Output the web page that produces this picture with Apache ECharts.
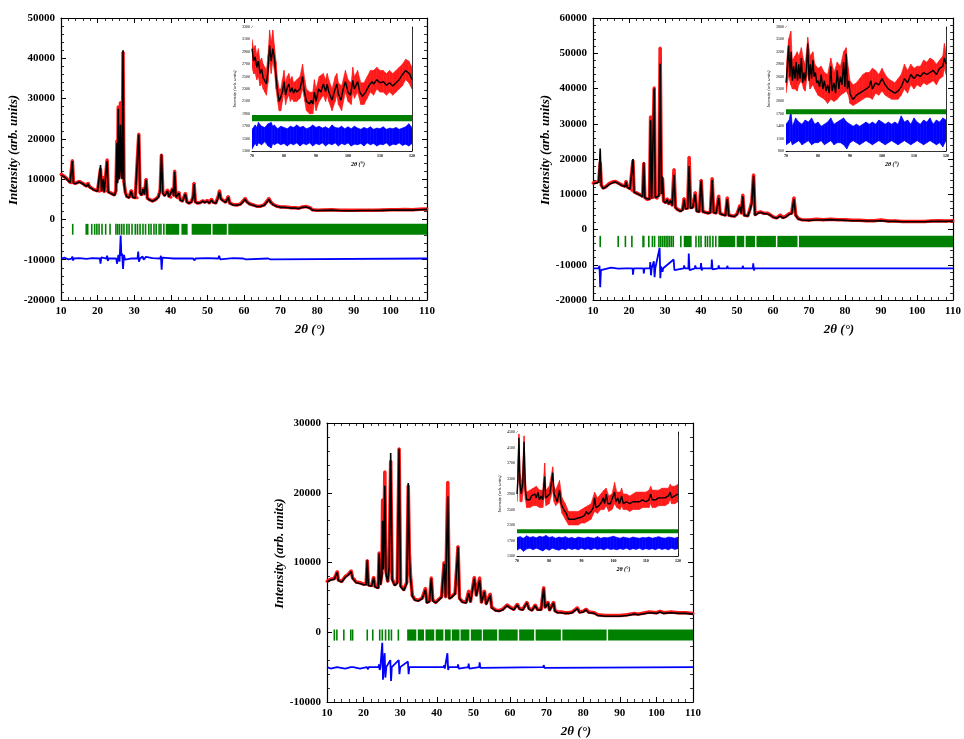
<!DOCTYPE html>
<html><head><meta charset="utf-8">
<script src="https://cdn.jsdelivr.net/npm/echarts@6/dist/echarts.min.js"></script>
<style>html,body{margin:0;padding:0;background:#fff}#c{width:964px;height:739px}</style>
</head><body><div id="c"></div>
<script>
// ---------- Axis ranges / ticks ----------
const mainX = [10, 110, 10];
const c1Y = [-20000, 50000, 10000];
const c2Y = [-20000, 60000, 10000];
const c3Y = [-10000, 30000, 10000];
const insetX = [70, 120, 10];
const i1Y = [1300, 3300, 200];
const i2Y = [800, 3800, 300];
const i3Y = [1300, 4500, 400];

// ---------- Chart 1 ----------
const c1Calc = [[10,11000],[10.5,10700],[11,10500],[11.5,10300],[12,9600],[12.5,9100],[12.8,9000],[13.1,14500],[13.4,9000],[14,8900],[14.5,9200],[15,9300],[15.5,9100],[16,8800],[16.5,8400],[17,8200],[17.4,8800],[17.8,8000],[18,7800],[19,7300],[20,7000],[20.5,6900],[20.8,13500],[21.1,7000],[21.5,10000],[21.8,6800],[22.3,7000],[22.6,14500],[22.9,6800],[23.5,6500],[24,6400],[24.6,6000],[25.0,7000],[25.3,19000],[25.5,9000],[25.65,27500],[25.85,12000],[26.0,10000],[26.25,23500],[26.5,12000],[26.7,10000],[26.95,42000],[27.2,9000],[27.6,6500],[28,5600],[28.6,5400],[29.2,7000],[29.6,5500],[30.3,5300],[30.8,5300],[31.25,21000],[31.6,6500],[32,6000],[32.4,7500],[32.8,6200],[33.25,9800],[33.6,5200],[34.2,4800],[35,4500],[35.5,4600],[36,5000],[36.6,5500],[37.1,7000],[37.45,16200],[37.8,6500],[38.3,5800],[39.1,7000],[39.5,5600],[40,5400],[40.5,7500],[40.8,5800],[41.05,11800],[41.4,5500],[41.8,5300],[42.2,6500],[42.6,4800],[43.2,4500],[44,6300],[44.4,4300],[45,4000],[45.6,4300],[46.1,5500],[46.35,8800],[46.7,4300],[47.3,4000],[48,4100],[48.7,4500],[49.3,4200],[50,4500],[50.5,4000],[51.1,4800],[51.6,4200],[52.3,4000],[53,5500],[53.3,6800],[53.7,5000],[54.3,4600],[55,4200],[55.7,5500],[56.1,4000],[57,3600],[58,3500],[59,3700],[59.7,4300],[60.3,5000],[60.8,4300],[61.5,3800],[62.5,3500],[63.5,3200],[64.5,3200],[65.5,3500],[66.2,4200],[66.8,5000],[67.3,4200],[68,3600],[69,3200],[70,3000],[71,3000],[72,2900],[73,2800],[74,2800],[75,2700],[76,3000],[77,3100],[78,2800],[78.7,2300],[80,2200],[82,2250],[84,2300],[86,2200],[88,2150],[90,2150],[92,2200],[94,2200],[96,2200],[98,2250],[100,2300],[102,2300],[104,2350],[106,2300],[108,2400],[110,2500]];
const c1Obs = [[10,11200],[10.5,10800],[11,10600],[11.5,10200],[12,9700],[12.5,9200],[12.8,9100],[13.1,14600],[13.4,9100],[14,9000],[14.5,9300],[15,9400],[15.5,9200],[16,8900],[16.5,8500],[17,8300],[17.4,9000],[17.8,8100],[18,7900],[19,7400],[20,7100],[20.5,7000],[20.8,12500],[21.1,7200],[21.5,10500],[21.8,6900],[22.3,7100],[22.6,14800],[22.9,6900],[23.5,6600],[24,6500],[24.6,6100],[25.0,7200],[25.3,19500],[25.5,10000],[25.65,28000],[25.85,13000],[26.0,11000],[26.25,29000],[26.5,13500],[26.7,10500],[26.95,41500],[27.2,9500],[27.6,6700],[28,5700],[28.6,5500],[29.2,7200],[29.6,5600],[30.3,5400],[30.8,5400],[31.25,21200],[31.6,6700],[32,6100],[32.4,7700],[32.8,6300],[33.25,10000],[33.6,5300],[34.2,4900],[35,4600],[35.5,4700],[36,5100],[36.6,5700],[37.1,7200],[37.45,16000],[37.8,6800],[38.3,6000],[39.1,7300],[39.5,5700],[40,5500],[40.5,7700],[40.8,6000],[41.05,12000],[41.4,5700],[41.8,5400],[42.2,6700],[42.6,4900],[43.2,4600],[44,6500],[44.4,4400],[45,4100],[45.6,4400],[46.1,5700],[46.35,9000],[46.7,4400],[47.3,4100],[48,4200],[48.7,4600],[49.3,4300],[50,4700],[50.5,4100],[51.1,5000],[51.6,4300],[52.3,4100],[53,5800],[53.3,7100],[53.7,5200],[54.3,4700],[55,4300],[55.7,5700],[56.1,4100],[57,3700],[58,3600],[59,3800],[59.7,4500],[60.3,5200],[60.8,4400],[61.5,3900],[62.5,3600],[63.5,3300],[64.5,3300],[65.5,3600],[66.2,4400],[66.8,5200],[67.3,4300],[68,3700],[69,3300],[70,3100],[71,3100],[72,3000],[73,2900],[74,2900],[75,2800],[76,3100],[77,3200],[78,2900],[78.7,2400],[80,2300],[82,2350],[84,2400],[86,2300],[88,2250],[90,2250],[92,2300],[94,2300],[96,2300],[98,2350],[100,2400],[102,2400],[104,2450],[106,2400],[108,2500],[110,2600]];
const c1Diff = [[10,-9700],[11,-9500],[12,-9900],[12.9,-9700],[13.1,-9200],[13.3,-10200],[13.5,-9700],[15,-9600],[17,-9800],[18.5,-9600],[20.6,-9700],[20.8,-11000],[21,-9400],[21.2,-9700],[22.4,-9700],[22.6,-9000],[22.8,-10300],[23,-9700],[25.1,-9700],[25.3,-11000],[25.5,-10800],[25.7,-8800],[26,-10500],[26.3,-4000],[26.5,-9000],[26.7,-8500],[26.95,-12300],[27.2,-8800],[27.5,-10000],[27.8,-9700],[29.0,-9700],[29.2,-9300],[29.5,-9700],[30.9,-9700],[31.1,-8000],[31.3,-10500],[31.6,-9700],[32.1,-9700],[32.3,-9200],[32.6,-10000],[32.9,-9700],[33.0,-9700],[33.2,-9300],[33.5,-9700],[35,-9600],[37.1,-9700],[37.3,-9000],[37.5,-12500],[37.7,-9500],[38,-9700],[39.5,-9600],[40.8,-9700],[41,-9300],[41.2,-10000],[41.4,-9700],[43.8,-9700],[44,-9400],[44.2,-9700],[46.1,-9700],[46.3,-9300],[46.5,-10200],[46.7,-9700],[50,-9600],[53.0,-9700],[53.2,-9000],[53.5,-9900],[53.7,-9700],[57,-9600],[59.8,-9700],[60,-9500],[60.5,-9900],[60.7,-9700],[66.6,-9700],[66.8,-9400],[67.2,-9900],[67.4,-9700],[110,-9700]];
const c1BraggY = [-1100, -3800];
const c1BraggLines = [13.2,16.9,17.3,18.4,19.2,19.8,20.4,21.2,22.2,23.4,25.0,25.5,26.0,26.6,27.2,28.0,28.6,29.4,30.3,30.9,31.6,32.4,33.1,34.0,34.6,35.4,36.0,36.8,37.3,38.1];
const c1BraggBands = [[38.6,42.3],[42.9,44.6],[45.7,51.0],[51.4,55.3],[55.7,110]];

// ---------- Chart 2 ----------
const c2Calc = [[10,13000],[11,13200],[11.6,13500],[12.0,23000],[12.3,12500],[12.8,11600],[13.5,12000],[14.5,12800],[15.5,13300],[16.2,13500],[17,13100],[18,12500],[18.9,12200],[19.2,13500],[19.5,12000],[20.3,11500],[20.8,11000],[21.1,20000],[21.4,10600],[22,10300],[23,9800],[23.8,9300],[24.1,19000],[24.4,9000],[25,8700],[25.7,8600],[26.0,31000],[26.3,8800],[26.7,9000],[27.0,40000],[27.3,9000],[27.8,8800],[28.3,9500],[28.65,47000],[29.0,10000],[29.3,15000],[29.6,8000],[30.2,7500],[30.6,8500],[31,7200],[31.5,8200],[32,6800],[32.5,15500],[32.9,6200],[33.5,5600],[34.3,5200],[34.9,5500],[35.3,8500],[35.7,5800],[36.3,6000],[36.7,18000],[37.1,6000],[37.7,6200],[38.4,10000],[38.8,5200],[39.5,5000],[40.05,13800],[40.5,5000],[41.2,4800],[42,4600],[42.6,4800],[43.1,14000],[43.5,4800],[44.2,4600],[44.9,9000],[45.3,4500],[46,4200],[46.8,4000],[47.3,8600],[47.7,4000],[48.5,3800],[49.3,3700],[50,4200],[50.8,6500],[51.2,4500],[51.6,9400],[52,4000],[53,3800],[53.6,5500],[54.1,7500],[54.6,15200],[55,4000],[55.8,4600],[56.5,4800],[57.5,4500],[58.5,4400],[59.3,4000],[60,3500],[61,3200],[62,3800],[62.7,3300],[63.5,3500],[64.5,4300],[65.2,4500],[65.8,8600],[66.3,4000],[67,3000],[68,2700],[70,2600],[72,2700],[74,2700],[76,2800],[78,2700],[80,2600],[82,2500],[84,2500],[86,2400],[88,2400],[90,2500],[92,2300],[94,2300],[96,2200],[98,2200],[100,2200],[102,2200],[104,2300],[106,2300],[108,2300],[110,2400]];
const c2Obs = [[10,13200],[11,13400],[11.6,13700],[12.0,19000],[12.3,12600],[12.8,11800],[13.5,12100],[14.5,13000],[15.5,13500],[16.2,13600],[17,13200],[18,12600],[18.9,12300],[19.2,13700],[19.5,12100],[20.3,11600],[20.8,11100],[21.1,19500],[21.4,10700],[22,10400],[23,9900],[23.8,9400],[24.1,18800],[24.4,9100],[25,8600],[25.7,8700],[26.0,32000],[26.3,9000],[26.7,9100],[27.0,40200],[27.3,9200],[27.8,8900],[28.3,9700],[28.65,51500],[29.0,10500],[29.3,14500],[29.6,8100],[30.2,7700],[30.6,8700],[31,7300],[31.5,8400],[32,6900],[32.5,17000],[32.9,6300],[33.5,5700],[34.3,5300],[34.9,5700],[35.3,8800],[35.7,6000],[36.3,6100],[36.7,20500],[37.1,6200],[37.7,6400],[38.4,10500],[38.8,5300],[39.5,5100],[40.05,14000],[40.5,5100],[41.2,4900],[42,4700],[42.6,4900],[43.1,14500],[43.5,4900],[44.2,4700],[44.9,9500],[45.3,4600],[46,4300],[46.8,4100],[47.3,9000],[47.7,4100],[48.5,3900],[49.3,3800],[50,4400],[50.8,6800],[51.2,4600],[51.6,9800],[52,4100],[53,3900],[53.6,5800],[54.1,7800],[54.6,15500],[55,4200],[55.8,4800],[56.5,5000],[57.5,4600],[58.5,4600],[59.3,4100],[60,3600],[61,3300],[62,4100],[62.7,3400],[63.5,3700],[64.5,4500],[65.2,4700],[65.8,9000],[66.3,4100],[67,3100],[68,2800],[70,2700],[72,2900],[74,2800],[76,2900],[78,2800],[80,2800],[82,2600],[84,2600],[86,2500],[88,2500],[90,2700],[92,2400],[94,2400],[96,2300],[98,2300],[100,2300],[102,2300],[104,2400],[106,2500],[108,2400],[110,2500]];
const c2Diff = [[10,-11000],[11.5,-11000],[11.8,-10300],[12.0,-16400],[12.2,-11500],[12.5,-11000],[15,-10800],[17,-11100],[19,-11000],[19.2,-10500],[19.4,-11000],[21,-11000],[21.1,-12800],[21.3,-11000],[24,-11000],[24.1,-12500],[24.3,-11000],[25.8,-11000],[25.9,-9200],[26.1,-13000],[26.3,-11000],[26.9,-9000],[27.1,-13500],[27.3,-11000],[28.5,-5200],[28.7,-13800],[28.9,-10500],[29.3,-12000],[29.5,-11000],[32.4,-8500],[32.6,-11500],[32.8,-11000],[35.2,-11000],[35.3,-10200],[35.5,-11000],[36.5,-11000],[36.6,-6800],[36.8,-11500],[37,-11000],[38.3,-11000],[38.4,-10200],[38.6,-11000],[39.9,-11000],[40,-9500],[40.2,-11600],[40.4,-11000],[42.9,-11000],[43,-8500],[43.2,-11300],[43.4,-11000],[44.8,-11000],[44.9,-10200],[45.1,-11000],[47.2,-11000],[47.3,-10300],[47.5,-11000],[51.5,-11000],[51.6,-10300],[51.8,-11000],[54.4,-11000],[54.5,-9600],[54.7,-11600],[54.9,-11000],[65.7,-11000],[65.8,-10600],[66,-11000],[110,-11000]];
const c2BraggY = [-1800, -5000];
const c2BraggLines = [12.0,17.0,19.0,20.8,23.9,24.1,25.5,26.5,27.1,28.3,28.8,29.3,29.8,30.3,30.8,31.3,31.8,32.3,34.4,38.6,39.4,40.0,41.2,41.8,42.5,43.3,44.1];
const c2BraggBands = [[35.2,37.4],[44.8,49.5],[49.9,52.0],[52.4,55.0],[55.4,60.8],[61.2,66.8],[67.2,110]];

// ---------- Chart 3 ----------
const c3Calc = [[10,7200],[11,7500],[12,7600],[12.5,7700],[12.8,8600],[13.1,7400],[14,7200],[15,7900],[15.8,8200],[16.6,8700],[17,7700],[17.5,7500],[18,7100],[19,7000],[20,6800],[20.7,6800],[21,10300],[21.3,6700],[22.2,6600],[22.75,7800],[23.1,6500],[24,6300],[24.25,11300],[24.6,6800],[25.0,8000],[25.2,16000],[25.45,9000],[25.8,21000],[26.1,8500],[26.6,7200],[27.0,9500],[27.4,25700],[27.8,7500],[28.5,6700],[29.2,7000],[29.7,26300],[30.1,6500],[31,6000],[31.8,7000],[32.2,21400],[32.5,11000],[32.8,8000],[33.3,5200],[34,4600],[35,4500],[36,4800],[36.9,6100],[37.3,4200],[38,4400],[38.5,7700],[38.9,4500],[39.7,4200],[40.5,4600],[41.3,5000],[42.0,9800],[42.4,5000],[43.0,19500],[43.4,4800],[44,5000],[45,5500],[45.8,12200],[46.2,4800],[47,4300],[48,4200],[48.7,5600],[49.2,4300],[50.25,7700],[50.8,5200],[51.7,7500],[52.2,4200],[53,5800],[53.5,4000],[54.6,5300],[55,3500],[56,3100],[57,3000],[58,3200],[59.2,3800],[60,3500],[61,3200],[62,3900],[62.6,3300],[63.5,3200],[64.6,4200],[65.2,3300],[66,3100],[66.9,3800],[67.5,3200],[68.5,3200],[69.2,6300],[69.6,3500],[70.4,4200],[70.8,3100],[71.9,4200],[72.3,3000],[73,2800],[74,2800],[75,2700],[76,2700],[77,2800],[78.4,3400],[79,2800],[80,2900],[80.8,3200],[81.5,2800],[83,2700],[84,2400],[86,2300],[88,2300],[90,2300],[92,2400],[94,2600],[95,2500],[97,2700],[98,2800],[100,2700],[101,2900],[102,2700],[104,2800],[106,2700],[108,2700],[110,2600]];
const c3Obs = [[10,7300],[11,7600],[12,7700],[12.5,7800],[12.8,8700],[13.1,7500],[14,7300],[15,8000],[15.8,8300],[16.6,8800],[17,7800],[17.5,7600],[18,7200],[19,7100],[20,6900],[20.7,6900],[21,10300],[21.3,6800],[22.2,6700],[22.75,7900],[23.1,6600],[24,6400],[24.25,11400],[24.6,6900],[25.0,8500],[25.2,19000],[25.45,10000],[25.8,23000],[26.1,8800],[26.6,7300],[27.0,9800],[27.4,24500],[27.8,7700],[28.5,6800],[29.2,7200],[29.7,26300],[30.1,6700],[31,6100],[31.8,7200],[32.2,21000],[32.5,11500],[32.8,8200],[33.3,5300],[34,4700],[35,4600],[36,4900],[36.9,6300],[37.3,4300],[38,4500],[38.5,7800],[38.9,4600],[39.7,4300],[40.5,4700],[41.3,5100],[42.0,10000],[42.4,5100],[43.0,21500],[43.4,4900],[44,5100],[45,5600],[45.8,12300],[46.2,4900],[47,4400],[48,4300],[48.7,5900],[49.2,4400],[50.25,7900],[50.8,5300],[51.7,7800],[52.2,4300],[53,5900],[53.5,4100],[54.6,5500],[55,3600],[56,3200],[57,3100],[58,3300],[59.2,3900],[60,3600],[61,3300],[62,4000],[62.6,3400],[63.5,3300],[64.6,4300],[65.2,3400],[66,3200],[66.9,3900],[67.5,3300],[68.5,3300],[69.2,6400],[69.6,3600],[70.4,4300],[70.8,3200],[71.9,4300],[72.3,3100],[73,2900],[74,2900],[75,2800],[76,2800],[77,2900],[78.4,3500],[79,2900],[80,3000],[80.8,3300],[81.5,2900],[83,2800],[84,2500],[86,2400],[88,2400],[90,2400],[92,2500],[94,2700],[95,2600],[97,2800],[98,2900],[100,2800],[101,3000],[102,2800],[104,2900],[106,2800],[108,2800],[110,2700]];
const c3Diff = [[10,-5000],[11,-5200],[12.7,-5000],[12.8,-4800],[13,-5200],[13.2,-5000],[15,-5200],[16.5,-5000],[16.6,-4800],[17,-5100],[17.2,-5000],[19,-5200],[20.9,-5000],[21,-4800],[21.2,-5300],[21.4,-5000],[24.1,-5000],[24.2,-4600],[24.4,-5400],[24.6,-5000],[25.1,-1500],[25.3,-6800],[25.5,-4800],[25.75,-3000],[25.95,-6500],[26.2,-5000],[27.3,-4000],[27.5,-7000],[27.7,-5000],[29.6,-4000],[29.8,-6000],[30,-5000],[32.1,-4200],[32.3,-6000],[32.5,-5000],[41.9,-5000],[42,-4700],[42.2,-5200],[42.4,-5000],[42.9,-3000],[43.1,-5400],[43.3,-5000],[45.7,-5000],[45.8,-4600],[46,-5200],[46.2,-5000],[48.6,-5000],[48.7,-4500],[48.9,-5200],[49.1,-5000],[51.6,-5000],[51.7,-4300],[51.9,-5100],[52.2,-5000],[69.1,-5000],[69.2,-4700],[69.4,-5100],[69.6,-5000],[110,-5000]];
const c3BraggY = [400, -1200];
const c3BraggLines = [12.0,12.7,14.6,16.5,17.0,21.0,22.5,24.4,25.1,26.0,26.9,27.6,29.5];
const c3BraggBands = [[31.9,34.4],[34.8,36.5],[36.9,39.3],[39.7,41.8],[42.2,43.8],[44.1,46.2],[46.5,48.9],[49.3,52.3],[52.6,56.5],[56.9,62.1],[62.5,66.6],[67,73.9],[74.3,86.4],[86.8,110]];

// ---------- Insets: [2θ, intensity] and [2θ, low, high] ----------
const i1Calc = [[70,2950],[70.5,2750],[71,2820],[71.5,2650],[72,2750],[72.5,2550],[73,2620],[73.5,2480],[74,2450],[74.5,2380],[75,2600],[75.5,3000],[76,2750],[76.5,2950],[77,2800],[77.5,2500],[78,2250],[78.5,2100],[79,2100],[79.5,2250],[80,2420],[80.5,2200],[81,2320],[81.5,2380],[82,2250],[82.5,2320],[83,2230],[83.5,2300],[84,2250],[85,2300],[85.8,2500],[86.3,2280],[87,2100],[88,2060],[88.5,2120],[89,2060],[89.5,2250],[90,2100],[90.8,2300],[91.5,2250],[92.3,2380],[93,2260],[93.5,2380],[94,2250],[95,2120],[96,2300],[96.5,2380],[97,2220],[97.8,2120],[98.5,2300],[99.2,2420],[100,2250],[100.8,2200],[101.5,2440],[102,2300],[103,2420],[103.7,2250],[104.5,2180],[105.5,2250],[106.5,2350],[107.5,2420],[108,2380],[109,2450],[110,2400],[111,2420],[112,2360],[113,2400],[114,2350],[115,2400],[116,2450],[117,2530],[118,2600],[118.5,2620],[119.3,2540],[120,2450]];
const i1ObsBand = [[70,2650,3100],[70.5,2550,2950],[71,2550,3000],[71.5,2450,2850],[72,2500,2950],[72.5,2350,2750],[73,2400,2800],[73.5,2300,2700],[74,2250,2650],[74.5,2200,2600],[75,2400,2850],[75.5,2750,3250],[76,2550,3050],[76.5,2750,3250],[77,2600,3000],[77.5,2300,2750],[78,2100,2450],[78.5,1950,2300],[79,1950,2300],[79.5,2100,2450],[80,2250,2600],[80.5,2050,2400],[81,2150,2500],[81.5,2200,2550],[82,2100,2450],[82.5,2150,2500],[83,2100,2400],[84,2100,2450],[85,2150,2500],[85.8,2300,2700],[86.5,2100,2450],[87,1950,2300],[88,1900,2250],[89,1900,2250],[89.5,2100,2450],[90,1950,2300],[91,2100,2500],[92.3,2200,2550],[93,2100,2450],[93.5,2200,2550],[94,2100,2450],[95,1950,2300],[96,2100,2500],[96.5,2200,2550],[97,2050,2400],[98,1950,2350],[99.2,2250,2600],[100,2100,2450],[101,2050,2400],[101.5,2250,2650],[102,2150,2500],[103,2250,2600],[104,2050,2400],[105,2050,2400],[106,2150,2500],[107,2250,2600],[108,2200,2600],[109,2300,2650],[110,2250,2600],[111,2250,2600],[112,2200,2550],[113,2250,2600],[114,2200,2550],[115,2250,2600],[116,2300,2650],[117,2350,2700],[118,2450,2780],[119,2400,2750],[120,2300,2650]];
const i1DiffBand = [[70,1330,1650],[71,1420,1720],[71.5,1380,1680],[72,1430,1760],[73,1400,1700],[74,1450,1680],[75,1380,1740],[76,1350,1760],[76.5,1420,1700],[77,1400,1720],[78,1430,1660],[79,1400,1700],[80,1420,1680],[81,1380,1660],[82,1420,1700],[83,1400,1680],[84,1430,1720],[85,1380,1680],[86,1420,1700],[87,1400,1660],[88,1430,1680],[89,1380,1720],[90,1420,1680],[91,1400,1700],[92,1430,1670],[93,1380,1690],[94,1420,1660],[95,1400,1720],[96,1430,1680],[97,1380,1670],[98,1420,1700],[99,1400,1660],[100,1430,1690],[101,1380,1660],[102,1410,1700],[103,1400,1670],[104,1420,1650],[105,1380,1680],[106,1430,1660],[107,1400,1690],[108,1420,1650],[109,1380,1670],[110,1410,1660],[111,1400,1690],[112,1430,1650],[113,1380,1670],[114,1410,1660],[115,1400,1680],[116,1430,1650],[117,1390,1670],[118,1410,1690],[119,1380,1740],[120,1420,1680]];
const i1Bragg = [70, 120, 1880, 1780];

const i2Calc = [[70,2450],[70.4,2800],[70.8,3350],[71.2,2600],[71.6,3200],[72,2500],[72.4,2850],[72.8,2550],[73.2,2950],[73.6,2500],[74,2900],[74.4,2550],[74.8,3050],[75.2,2450],[75.6,2700],[76,2500],[76.4,2800],[76.8,3400],[77.2,2500],[77.6,2900],[78,2550],[78.4,3000],[78.8,2600],[79.2,2700],[79.6,2450],[80,2500],[80.5,2350],[81,2650],[81.5,2300],[82,2500],[82.5,2250],[83,2400],[83.5,2200],[84,2850],[84.4,2250],[85,2450],[85.5,2200],[86,2750],[86.5,2300],[87,2600],[87.5,2400],[88,2950],[88.4,2350],[88.8,3150],[89.2,2300],[89.6,2500],[90,2200],[90.5,2100],[91,2050],[92,2150],[93,2200],[94,2250],[95,2300],[96,2350],[96.5,2500],[97,2300],[98,2450],[99,2400],[100,2550],[101,2400],[102,2300],[103,2250],[104,2200],[105,2250],[106,2350],[107,2550],[108,2450],[109,2650],[110,2550],[111,2650],[112,2600],[113,2700],[114,2650],[115,2700],[116,2750],[117,2650],[118,2800],[119,2850],[119.5,3050],[120,2900]];
const i2ObsBand = [[70,2200,2800],[70.8,2600,3500],[71.5,2400,3700],[72,2300,3000],[72.8,2300,3100],[73.5,2250,3200],[74,2400,3100],[74.8,2500,3300],[75.5,2300,3000],[76,2250,2900],[76.8,2700,3550],[77.5,2300,3100],[78.4,2400,3200],[79,2300,2900],[80,2150,2800],[81,2100,2850],[82,2050,2700],[83,1950,2650],[84,2050,3050],[85,2000,2700],[86,2050,2950],[87,2150,2850],[88,2200,3200],[88.8,2250,3300],[89.5,2150,2800],[90,1950,2500],[91,1900,2400],[92,1950,2450],[93,2000,2550],[94,2050,2650],[95,2100,2700],[96,2100,2700],[97,2050,2800],[98,2200,2750],[99,2150,2650],[100,2250,2800],[101,2150,2650],[102,2100,2550],[103,2050,2500],[104,2050,2450],[105,2050,2550],[106,2150,2650],[107,2300,2900],[108,2200,2750],[109,2400,2900],[110,2300,2800],[111,2400,2850],[112,2350,2850],[113,2450,3000],[114,2400,2950],[115,2450,3050],[116,2500,3000],[117,2400,2900],[118,2550,3000],[119,2600,3100],[119.5,2800,3400],[120,2650,3200]];
const i2DiffBand = [[70,950,1450],[71,1000,1550],[71.5,1050,1780],[72,950,1400],[73,1000,1600],[74,1050,1500],[75,950,1450],[76,1000,1550],[77,1050,1500],[78,950,1600],[79,1000,1450],[80,1000,1500],[81,1050,1400],[82,950,1450],[83,1000,1500],[84,1050,1600],[85,950,1450],[86,1000,1500],[87,1000,1550],[88,950,1600],[89,850,1500],[90,1000,1450],[91,1050,1400],[92,1000,1450],[93,950,1400],[94,1000,1450],[95,1050,1500],[96,1000,1450],[97,950,1500],[98,1000,1450],[99,1050,1550],[100,1000,1500],[101,950,1450],[102,1000,1500],[103,1050,1450],[104,1000,1500],[105,950,1450],[106,1000,1650],[107,1050,1500],[108,1000,1550],[109,950,1450],[110,1000,1600],[111,1050,1500],[112,1000,1450],[113,950,1550],[114,1000,1500],[115,1050,1600],[116,1000,1450],[117,950,1550],[118,1000,1500],[119,900,1600],[120,1050,1550]];
const i2Bragg = [70, 120, 1810, 1690];

const i3Calc = [[70,2900],[70.3,3300],[70.6,4350],[70.9,3200],[71.3,2900],[71.8,3200],[72.2,4250],[72.6,3000],[73,2750],[73.5,2800],[74,2750],[74.5,2850],[75,2800],[75.5,2900],[76,2800],[76.5,2950],[77,2750],[77.5,2850],[78,2750],[78.3,3100],[78.6,3350],[78.9,2800],[79.5,2800],[80.2,2900],[80.7,3200],[81.1,3450],[81.5,2900],[82,2800],[82.5,2700],[83.2,3000],[83.7,2650],[84.5,2500],[85.3,2400],[86,2250],[87,2250],[88,2250],[89,2280],[90,2300],[91,2350],[91.5,2450],[92,2380],[93,2450],[93.7,2550],[94.1,2800],[94.5,2550],[95.5,2600],[96.3,2700],[96.8,2800],[97.2,2650],[97.7,2900],[98.2,2650],[99,2650],[99.5,2700],[100.3,2950],[100.7,2700],[101.3,2800],[101.8,2650],[102.5,2850],[103,2650],[104,2700],[105,2650],[106,2700],[107,2700],[108,2700],[109,2750],[110,2700],[111,2750],[111.5,2900],[112,2750],[113,2750],[114,2800],[115,2800],[116,2800],[117,2850],[117.6,2950],[118,2800],[119,2850],[120,2900]];
const i3ObsBand = [[70,2700,3300],[70.6,3500,4450],[71,2700,3400],[71.5,2700,3200],[72.2,3100,4400],[72.6,2750,3300],[73,2550,2950],[74,2550,3000],[75,2600,3050],[76,2600,3100],[77,2550,3000],[78,2550,3000],[78.6,2900,3700],[79,2600,3000],[80,2650,3100],[81.1,3000,3600],[81.5,2700,3100],[82,2600,3000],[83.2,2700,3250],[84,2400,2800],[85,2250,2650],[86,2100,2450],[87,2100,2450],[88,2100,2450],[89,2100,2450],[90,2150,2500],[91,2150,2550],[92,2200,2600],[93,2250,2650],[94.1,2450,2950],[95,2400,2800],[96,2500,2900],[97,2500,3000],[97.7,2600,3050],[98.5,2450,2850],[99.5,2500,2900],[100.3,2650,3200],[101,2550,2950],[102,2500,2950],[102.5,2600,3050],[103,2500,2900],[104,2500,2900],[105,2450,2850],[106,2500,2900],[107,2500,2950],[108,2500,2950],[109,2550,2950],[110,2550,2950],[111,2550,3000],[111.5,2650,3100],[112,2550,3000],[113,2550,3000],[114,2600,3000],[115,2600,3050],[116,2600,3050],[117,2650,3050],[117.6,2750,3150],[118,2650,3100],[119,2650,3100],[120,2700,3150]];
const i3DiffBand = [[70,1450,1780],[71,1500,1800],[72,1420,1760],[73,1480,1820],[74,1500,1780],[75,1460,1800],[76,1500,1770],[77,1470,1810],[78,1430,1790],[79,1490,1830],[80,1450,1780],[81,1500,1800],[82,1470,1760],[83,1450,1790],[84,1490,1770],[85,1460,1800],[86,1500,1760],[87,1470,1780],[88,1490,1750],[89,1460,1790],[90,1500,1770],[91,1470,1760],[92,1490,1790],[93,1460,1770],[94,1500,1760],[95,1470,1800],[96,1490,1760],[97,1460,1780],[98,1500,1770],[99,1470,1790],[100,1480,1810],[101,1460,1780],[102,1490,1760],[103,1470,1790],[104,1500,1770],[105,1460,1760],[106,1490,1790],[107,1470,1770],[108,1500,1760],[109,1460,1780],[110,1490,1770],[111,1470,1790],[112,1490,1760],[113,1460,1780],[114,1500,1800],[115,1470,1770],[116,1490,1760],[117,1460,1790],[118,1500,1780],[119,1470,1760],[120,1490,1790]];
const i3Bragg = [70, 120, 1990, 1890];

// ---------- Build ----------
const FONT = '"Liberation Serif", "DejaVu Serif", serif';
const RED = '#ff1a1a', BLK = '#000', GRN = '#008000', BLU = '#0000ff';
const grids = [
  {left:61, top:18, width:366, height:282},
  {left:593, top:18, width:366, height:282},
  {left:327, top:423, width:366, height:282},
  {left:252, top:27, width:160, height:124},
  {left:786, top:27, width:160, height:124},
  {left:517, top:432, width:161, height:124}
];
const xAxes = [], yAxes = [], series = [];
const plain = v => String(v);

function addAxes(g, xr, yr, small) {
  const fs = small ? 4 : 11, tl = small ? 2.5 : 5, mtl = small ? 1.5 : 3;
  const lw = small ? 0.8 : 1.2;
  const line = {show:true, onZero:false, lineStyle:{color:'#000', width:lw}};
  const tick = {show:true, inside:true, length:tl, lineStyle:{color:'#000', width:small?0.6:1}};
  const minor = {show:true, splitNumber:5, length:mtl, lineStyle:{color:'#000', width:small?0.5:0.8}};
  const lab = {show:true, fontFamily:FONT, fontWeight:'bold', fontSize:fs, color:'#000', margin: small ? 3 : 6, formatter:plain};
  xAxes.push({gridIndex:g, type:'value', min:xr[0], max:xr[1], interval:xr[2], position:'bottom',
    axisLine:line, axisTick:tick, minorTick:minor, axisLabel:lab, splitLine:{show:false},
    name:'2θ (°)', nameLocation:'middle', nameGap: small ? 10 : 23,
    nameTextStyle:{fontFamily:FONT, fontWeight:'bold', fontStyle:'italic', fontSize: small ? 6 : 13, color:'#000',
      padding: small ? [0,0,0,52] : [0,0,0,132]}});
  xAxes.push({gridIndex:g, type:'value', min:xr[0], max:xr[1], interval:xr[2], position:'top',
    axisLine:line, axisTick:tick, minorTick:minor, axisLabel:{show:false}, splitLine:{show:false}});
  yAxes.push({gridIndex:g, type:'value', min:yr[0], max:yr[1], interval:yr[2], position:'left',
    axisLine:line, axisTick:tick, minorTick:minor,
    axisLabel:Object.assign({}, lab, small ? {fontWeight:'normal', margin:2} : {}),
    splitLine:{show:false},
    name:'Intensity (arb. units)', nameLocation:'middle', nameGap: small ? 15 : 32,
    nameTextStyle:{fontFamily:FONT, fontWeight: small ? 'normal' : 'bold', fontStyle:'italic', fontSize: small ? 4.5 : 13, color:'#000',
      padding: small ? 0 : [0,0,0,18]}});
  yAxes.push({gridIndex:g, type:'value', min:yr[0], max:yr[1], interval:yr[2], position:'right',
    axisLine:line, axisTick:tick, minorTick:minor, axisLabel:{show:false}, splitLine:{show:false}});
}

function braggSeries(ai, lines, bands, yr, z, minW) {
  const data = [];
  lines.forEach(x => data.push([x, x, yr[0], yr[1]]));
  bands.forEach(b => data.push([b[0], b[1], yr[0], yr[1]]));
  series.push({type:'custom', xAxisIndex:ai, yAxisIndex:ai, z:z, silent:true, clip:true,
    encode:{x:[0,1], y:[2,3]}, data:data,
    renderItem:(params, api) => {
      const p0 = api.coord([api.value(0), api.value(2)]);
      const p1 = api.coord([api.value(1), api.value(3)]);
      let x = p0[0], w = p1[0] - p0[0];
      if (w < minW) { x = p0[0] - minW / 2; w = minW; }
      return {type:'rect', shape:{x:x, y:p0[1], width:w, height:p1[1]-p0[1]}, style:{fill:GRN}};
    }});
}

// filled band between low and high envelopes, drawn segment by segment through the axes
function bandSeries(ai, band, color, z) {
  series.push({type:'custom', xAxisIndex:ai, yAxisIndex:ai, z:z, silent:true, clip:true,
    encode:{x:0, y:[1,2]}, data:band,
    renderItem:(params, api) => {
      const i = params.dataIndex;
      if (i >= band.length - 1) return null;
      const a = band[i], b = band[i + 1];
      const pts = [api.coord([a[0], a[1]]), api.coord([b[0], b[1]]), api.coord([b[0], b[2]]), api.coord([a[0], a[2]])];
      return {type:'polygon', shape:{points:pts}, style:{fill:color, stroke:color, lineWidth:0.6}};
    }});
}

function mainChart(g, yr, calc, obs, diff, bLines, bBands, bY) {
  addAxes(g, mainX, yr, false);
  const ai = 2 * g;
  braggSeries(ai, bLines, bBands, bY, 2, 1.6);
  series.push({type:'line', xAxisIndex:ai, yAxisIndex:ai, data:diff, symbol:'none', z:3, silent:true,
    lineStyle:{color:BLU, width:1.8}});
  series.push({type:'line', xAxisIndex:ai, yAxisIndex:ai, data:obs, z:4, silent:true,
    symbol:'circle', symbolSize:3, showSymbol:true, itemStyle:{color:RED},
    lineStyle:{color:RED, width:3.5}});
  series.push({type:'line', xAxisIndex:ai, yAxisIndex:ai, data:calc, symbol:'none', z:5, silent:true,
    lineStyle:{color:BLK, width:1.6}});
}

function insetChart(g, yr, calc, obsBand, diffBand, bragg) {
  addAxes(g, insetX, yr, true);
  const ai = 2 * g;
  bandSeries(ai, diffBand, BLU, 10);
  braggSeries(ai, [], [[bragg[0], bragg[1]]], [bragg[2], bragg[3]], 10, 1);
  bandSeries(ai, obsBand, RED, 11);
  series.push({type:'line', xAxisIndex:ai, yAxisIndex:ai, data:calc, symbol:'none', z:12, silent:true,
    lineStyle:{color:BLK, width:1.4}});
}

mainChart(0, c1Y, c1Calc, c1Obs, c1Diff, c1BraggLines, c1BraggBands, c1BraggY);
mainChart(1, c2Y, c2Calc, c2Obs, c2Diff, c2BraggLines, c2BraggBands, c2BraggY);
mainChart(2, c3Y, c3Calc, c3Obs, c3Diff, c3BraggLines, c3BraggBands, c3BraggY);
insetChart(3, i1Y, i1Calc, i1ObsBand, i1DiffBand, i1Bragg);
insetChart(4, i2Y, i2Calc, i2ObsBand, i2DiffBand, i2Bragg);
insetChart(5, i3Y, i3Calc, i3ObsBand, i3DiffBand, i3Bragg);

const chart = echarts.init(document.getElementById('c'), null, {renderer:'canvas'});
chart.setOption({
  animation:false,
  backgroundColor:'#fff',
  grid: grids.map((gr, i) => Object.assign({show: i >= 3, backgroundColor:'#fff', borderWidth:0, z: i >= 3 ? 8 : 0}, gr)),
  xAxis:xAxes, yAxis:yAxes, series:series
});
</script></body></html>
